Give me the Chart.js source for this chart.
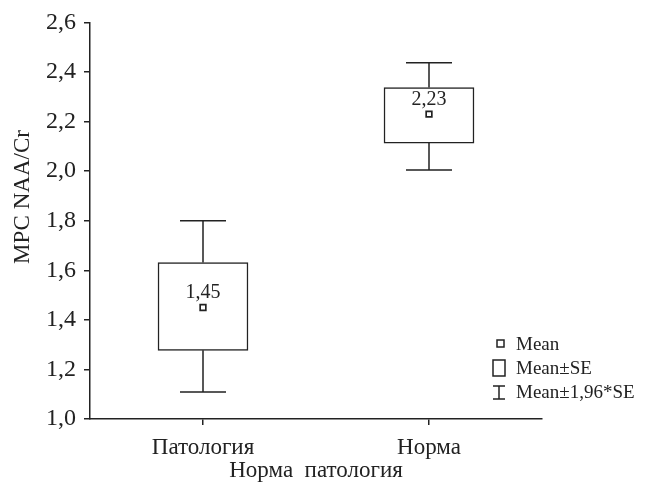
<!DOCTYPE html>
<html>
<head>
<meta charset="utf-8">
<script src="https://cdn.jsdelivr.net/npm/chart.js@4"></script>
<style>
  html, body { margin: 0; padding: 0; background: #fff; }
  #wrap { width: 647px; height: 482px; }
</style>
</head>
<body>
<div id="wrap"><canvas id="chart"></canvas></div>
<script>
// data
const categories = ['Патология', 'Норма'];
const means = [1.45, 2.23];
const seLow = [1.277, 2.113];
const seHigh = [1.631, 2.337];
const ciLow = [1.109, 2.005];
const ciHigh = [1.80, 2.437];
const yTicks = [1.0, 1.2, 1.4, 1.6, 1.8, 2.0, 2.2, 2.4, 2.6];

const ink = '#222';
const serif = '"Liberation Serif", "DejaVu Serif", serif';

function fmt(v) {
    return v.toFixed(2).replace('.', ',');
}

// whiskers with caps, mean labels, y title and the legend
const extras = {
    id: 'extras',
    beforeDatasetsDraw(chart) {
        const ctx = chart.ctx;
        const x = chart.scales.x;
        const y = chart.scales.y;
        ctx.save();
        ctx.strokeStyle = ink;
        ctx.lineWidth = 1.5;
        categories.forEach((c, i) => {
            const cx = x.getPixelForValue(i);
            const hw = 23;
            ctx.beginPath();
            ctx.moveTo(cx, y.getPixelForValue(ciHigh[i]));
            ctx.lineTo(cx, y.getPixelForValue(seHigh[i]));
            ctx.moveTo(cx, y.getPixelForValue(seLow[i]));
            ctx.lineTo(cx, y.getPixelForValue(ciLow[i]));
            ctx.moveTo(cx - hw, y.getPixelForValue(ciHigh[i]));
            ctx.lineTo(cx + hw, y.getPixelForValue(ciHigh[i]));
            ctx.moveTo(cx - hw, y.getPixelForValue(ciLow[i]));
            ctx.lineTo(cx + hw, y.getPixelForValue(ciLow[i]));
            ctx.stroke();
        });
        ctx.restore();
    },
    afterDraw(chart) {
        const ctx = chart.ctx;
        const x = chart.scales.x;
        const y = chart.scales.y;
        ctx.save();
        ctx.fillStyle = ink;
        ctx.font = '20px ' + serif;
        ctx.textAlign = 'center';
        ctx.textBaseline = 'alphabetic';
        categories.forEach((c, i) => {
            ctx.fillText(fmt(means[i]), x.getPixelForValue(i), y.getPixelForValue(means[i]) - 9);
        });

        // y axis title
        ctx.save();
        ctx.translate(23, 197);
        ctx.rotate(-Math.PI / 2);
        ctx.font = '23px ' + serif;
        ctx.textBaseline = 'middle';
        ctx.fillText('МРС NAA/Cr', 0, 0);
        ctx.restore();

        // legend
        const lx = 516;
        ctx.textAlign = 'left';
        ctx.textBaseline = 'middle';
        ctx.font = '19px ' + serif;
        ctx.strokeStyle = ink;
        ctx.lineWidth = 1.5;
        ctx.strokeRect(497, 340, 7, 7);
        ctx.fillText('Mean', lx, 345);
        ctx.strokeRect(493, 360, 12, 16);
        ctx.fillText('Mean±SE', lx, 369);
        ctx.beginPath();
        ctx.moveTo(493, 386); ctx.lineTo(505, 386);
        ctx.moveTo(499, 386); ctx.lineTo(499, 399);
        ctx.moveTo(493, 399); ctx.lineTo(505, 399);
        ctx.stroke();
        ctx.fillText('Mean±1,96*SE', lx, 393);
        ctx.restore();
    }
};

new Chart(document.getElementById('chart'), {
    data: {
        labels: categories,
        datasets: [
            {
                type: 'bar',
                order: 2,
                data: categories.map((c, i) => [seLow[i], seHigh[i]]),
                backgroundColor: '#fff',
                borderColor: ink,
                borderWidth: 1.5,
                borderSkipped: false,
                barThickness: 90
            },
            {
                type: 'line',
                order: 1,
                data: means,
                showLine: false,
                pointStyle: 'rect',
                pointRadius: 4,
                pointBorderWidth: 1.7,
                pointBackgroundColor: '#fff',
                pointBorderColor: ink
            }
        ]
    },
    options: {
        responsive: true,
        maintainAspectRatio: false,
        animation: false,
        layout: { padding: { top: 22, right: 105, left: 0, bottom: 0 } },
        plugins: {
            legend: { display: false },
            tooltip: { enabled: false }
        },
        scales: {
            x: {
                afterFit: s => { s.height = 63; },
                border: { color: ink, width: 1.5 },
                grid: { offset: false, drawOnChartArea: false, tickLength: 6, color: ink, lineWidth: 1.5 },
                ticks: { color: ink, font: { family: serif, size: 23 }, padding: 9 },
                title: {
                    display: true,
                    text: 'Норма  патология',
                    color: ink,
                    font: { family: serif, size: 23, lineHeight: 1.0 },
                    padding: { top: 0, bottom: 0 }
                }
            },
            y: {
                min: 1.0,
                max: 2.6,
                afterFit: s => { s.width = 90; },
                afterBuildTicks: s => { s.ticks = yTicks.map(v => ({ value: v })); },
                border: { color: ink, width: 1.5 },
                grid: { drawOnChartArea: false, tickLength: 6, color: ink, lineWidth: 1.5 },
                ticks: {
                    color: ink,
                    font: { family: serif, size: 24 },
                    padding: 8,
                    callback: v => v.toFixed(1).replace('.', ',')
                }
            }
        }
    },
    plugins: [extras]
});
</script>
</body>
</html>
